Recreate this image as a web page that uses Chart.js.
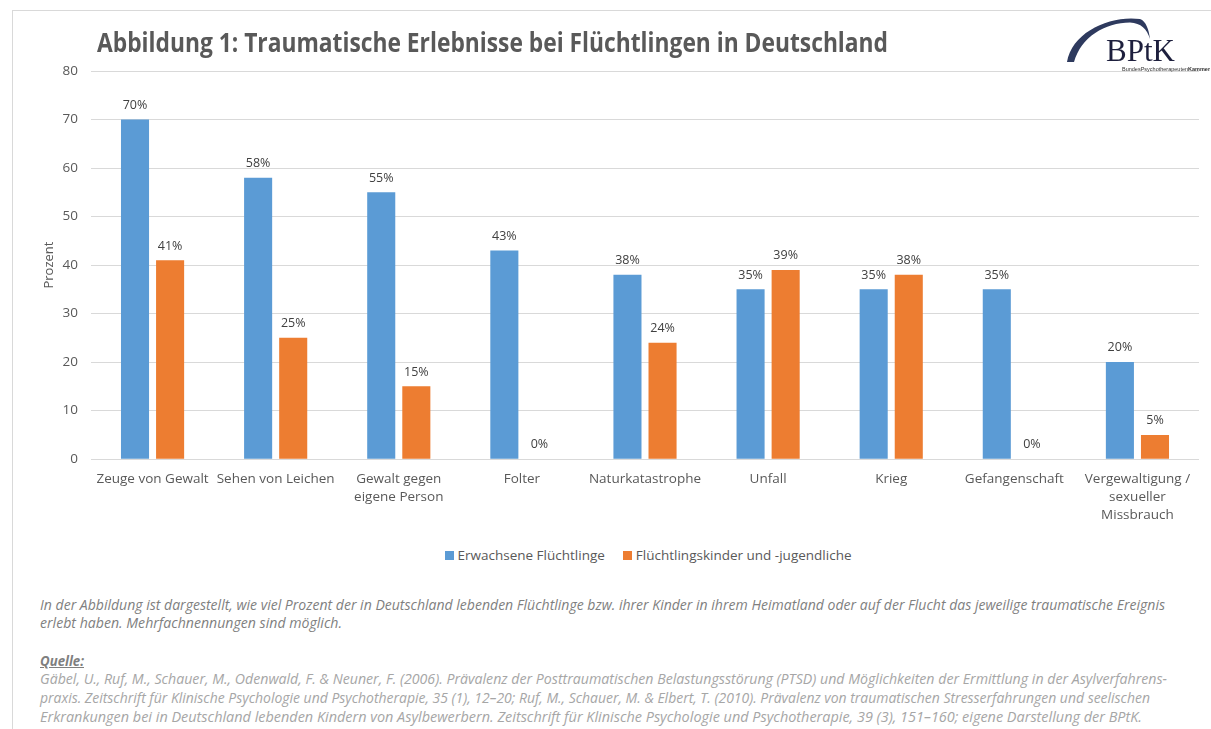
<!DOCTYPE html>
<html><head><meta charset="utf-8">
<script src="https://cdn.jsdelivr.net/npm/chart.js@4/dist/chart.umd.min.js"></script>
<style>
html,body{margin:0;padding:0;background:#fff;width:1211px;height:729px;overflow:hidden;}
#frame{position:absolute;left:12px;top:10px;width:1210px;height:730px;border-left:1px solid #d9d9d9;border-top:1px solid #d9d9d9;}
#title{position:absolute;left:97px;top:24px;font-family:"Liberation Sans Narrow","Open Sans",sans-serif;font-weight:bold;font-size:26px;color:#595959;white-space:nowrap;transform-origin:0 0;}
#wrap{position:absolute;left:0;top:0;width:1211px;height:535px;}
.note{position:absolute;left:40px;font-family:"Liberation Sans Narrow","Open Sans",sans-serif;font-style:italic;font-size:14px;white-space:nowrap;transform-origin:0 0;}
#logo{position:absolute;left:1060px;top:12px;width:150px;height:70px;}
#legend{position:absolute;left:0;top:546px;width:1296px;text-align:center;font-family:"Open Sans",sans-serif;font-size:13.5px;color:#595959;white-space:nowrap;}
#legend span.item{display:inline-block;margin:0 9px;}
#legend i{display:inline-block;width:9px;height:9px;margin-right:4px;vertical-align:0px;}
</style></head><body>
<div id="frame"></div>
<div id="wrap"><canvas id="c" width="1211" height="535"></canvas></div>
<div id="legend"></div>
<div id="title">Abbildung 1: Traumatische Erlebnisse bei Flüchtlingen in Deutschland</div>
<svg id="logo" width="150" height="70" viewBox="0 0 150 70">
<path d="M7 50 C 12 20, 50 3, 80 7 C 86 9, 89 18, 90 27 C 87 17, 81 11, 70 10.5 C 45 10.5, 21 25, 14 50 Z" fill="#2e3a5e"/>
<text x="46" y="49" font-family="Liberation Serif, serif" font-size="31" fill="#1d1f3d">BPtK</text>
<text x="62" y="59" font-family="Liberation Sans Narrow, sans-serif" font-size="5.5" fill="#333">BundesPsychotherapeuten<tspan font-weight="bold">Kammer</tspan></text>
</svg>
<div class="note" id="n1" style="top:595px;color:#7f7f7f;" data-w="1125">In der Abbildung ist dargestellt, wie viel Prozent der in Deutschland lebenden Flüchtlinge bzw. ihrer Kinder in ihrem Heimatland oder auf der Flucht das jeweilige traumatische Ereignis</div>
<div class="note" id="n2" style="top:613px;color:#7f7f7f;" data-w="302">erlebt haben. Mehrfachnennungen sind möglich.</div>
<div class="note" id="n3" style="top:651px;color:#7f7f7f;font-weight:bold;text-decoration:underline;" data-w="44">Quelle:</div>
<div class="note" id="n4" style="top:669px;color:#a6a6a6;" data-w="1127">Gäbel, U., Ruf, M., Schauer, M., Odenwald, F. &amp; Neuner, F. (2006). Prävalenz der Posttraumatischen Belastungsstörung (PTSD) und Möglichkeiten der Ermittlung in der Asylverfahrens-</div>
<div class="note" id="n5" style="top:688px;color:#a6a6a6;" data-w="1110">praxis. Zeitschrift für Klinische Psychologie und Psychotherapie, 35 (1), 12–20; Ruf, M., Schauer, M. &amp; Elbert, T. (2010). Prävalenz von traumatischen Stresserfahrungen und seelischen</div>
<div class="note" id="n6" style="top:707px;color:#a6a6a6;" data-w="1102">Erkrankungen bei in Deutschland lebenden Kindern von Asylbewerbern. Zeitschrift für Klinische Psychologie und Psychotherapie, 39 (3), 151–160; eigene Darstellung der BPtK.</div>
<script>
const categories = [
  "Zeuge von Gewalt",
  "Sehen von Leichen",
  ["Gewalt gegen", "eigene Person"],
  "Folter",
  "Naturkatastrophe",
  "Unfall",
  "Krieg",
  "Gefangenschaft",
  ["Vergewaltigung /", "sexueller", "Missbrauch"]
];
const seriesNames = ["Erwachsene Flüchtlinge", "Flüchtlingskinder und -jugendliche"];
const seriesColors = ["#5b9bd5", "#ed7d31"];
const adults = [70, 58, 55, 43, 38, 35, 35, 35, 20];
const children = [41, 25, 15, 0, 24, 39, 38, 0, 5];
const yTicks = [0, 10, 20, 30, 40, 50, 60, 70, 80];

// fit condensed texts to measured widths
function fit(el, w){ const r = el.getBoundingClientRect().width; if(r>0) el.style.transform = 'scaleX(' + (w/r) + ')'; }
fit(document.getElementById('title'), 791);
document.querySelectorAll('.note').forEach(el => fit(el, +el.dataset.w));

// legend
const lg = document.getElementById('legend');
seriesNames.forEach((n, i) => {
  const s = document.createElement('span'); s.className = 'item';
  const b = document.createElement('i'); b.style.background = seriesColors[i];
  s.appendChild(b); s.appendChild(document.createTextNode(n)); lg.appendChild(s);
});

const labelPlugin = {
  id: 'vals',
  afterDatasetsDraw(chart){
    const ctx = chart.ctx;
    ctx.save();
    ctx.font = '12.5px "Open Sans", sans-serif';
    ctx.fillStyle = '#404040';
    ctx.textAlign = 'center';
    ctx.textBaseline = 'bottom';
    chart.data.datasets.forEach((ds, i) => {
      chart.getDatasetMeta(i).data.forEach((bar, j) => {
        ctx.fillText(ds.data[j] + '%', bar.x, bar.y - 8);
      });
    });
    ctx.restore();
  }
};

new Chart(document.getElementById('c'), {
  type: 'bar',
  data: {
    labels: categories,
    datasets: [
      { label: seriesNames[0], data: adults, backgroundColor: seriesColors[0], categoryPercentage: 0.57, barPercentage: 0.8 },
      { label: seriesNames[1], data: children, backgroundColor: seriesColors[1], categoryPercentage: 0.57, barPercentage: 0.8 }
    ]
  },
  options: {
    responsive: false,
    animation: false,
    layout: { padding: { left: 41, right: 12, top: 71, bottom: 8 } },
    plugins: {
      legend: { display: false },
      tooltip: { enabled: false }
    },
    scales: {
      x: {
        grid: { display: false },
        border: { display: false },
        ticks: { font: { family: '"Open Sans", sans-serif', size: 13.5, lineHeight: 1.33 }, color: '#595959', maxRotation: 0, autoSkip: false, padding: 3 }
      },
      y: {
        min: 0, max: 80,
        afterBuildTicks(axis){ axis.ticks = yTicks.map(v => ({ value: v })); },
        afterFit(axis){ axis.width = 91 - 41; },
        grid: { color: '#d9d9d9', drawTicks: false },
        border: { display: false },
        ticks: { font: { family: '"Open Sans", sans-serif', size: 13.5 }, color: '#595959', padding: 13 },
        title: { display: true, text: 'Prozent', font: { family: '"Open Sans", sans-serif', size: 13 }, color: '#595959', padding: 0 }
      }
    }
  },
  plugins: [labelPlugin]
});
</script>
</body></html>
